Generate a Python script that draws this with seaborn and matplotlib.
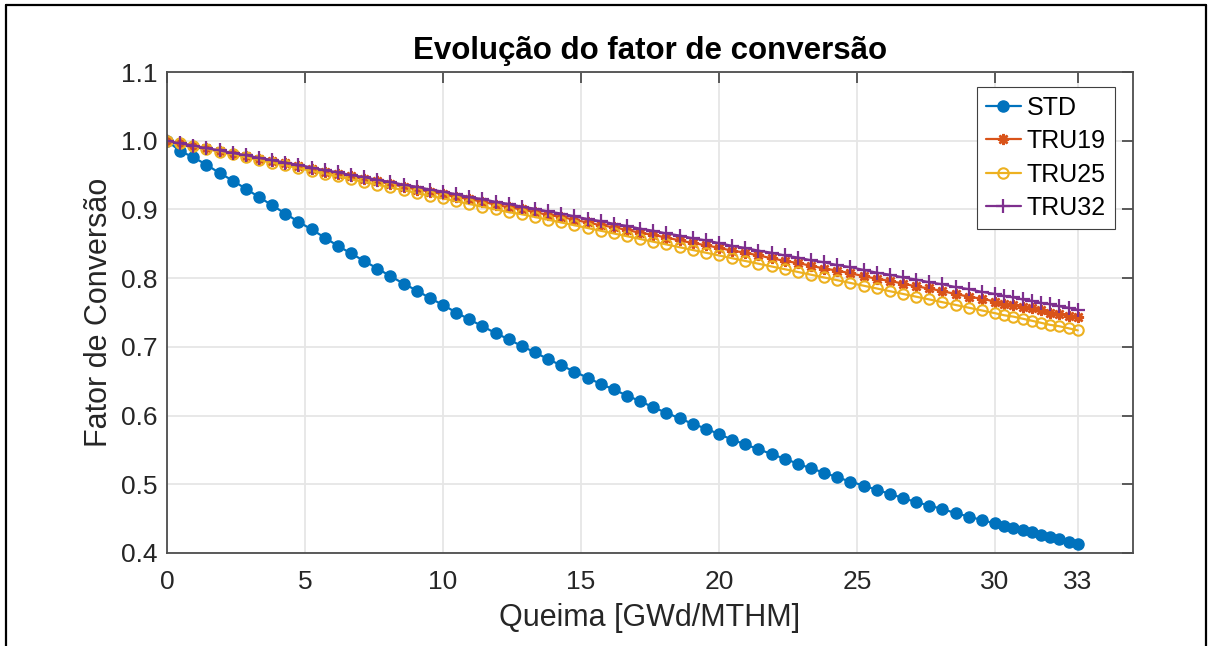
import matplotlib
matplotlib.use("Agg")
import matplotlib.pyplot as plt
from matplotlib.lines import Line2D
import pandas as pd
import seaborn as sns

# ---------------- data ----------------
burnup = [0.0, 0.476, 0.952, 1.429, 1.905, 2.381, 2.857, 3.333, 3.810, 4.286,
          4.762, 5.238, 5.714, 6.190, 6.667, 7.143, 7.619, 8.095, 8.571, 9.048,
          9.524, 10.0, 10.476, 10.952, 11.429, 11.905, 12.381, 12.857, 13.333, 13.810,
          14.286, 14.762, 15.238, 15.714, 16.190, 16.667, 17.143, 17.619, 18.095, 18.571,
          19.048, 19.524, 20.0, 20.476, 20.952, 21.429, 21.905, 22.381, 22.857, 23.333,
          23.810, 24.286, 24.762, 25.238, 25.714, 26.190, 26.667, 27.143, 27.619, 28.095,
          28.571, 29.048, 29.524, 30.0, 30.333, 30.667, 31.0, 31.333, 31.667, 32.0,
          32.333, 32.667, 33.0]

std = [1.000, 0.985, 0.976, 0.965, 0.953, 0.942, 0.930, 0.918, 0.906,
       0.894, 0.882, 0.871, 0.859, 0.847, 0.836, 0.825, 0.814, 0.803, 0.792, 0.782, 0.771,
       0.761, 0.750, 0.740, 0.730, 0.720, 0.711, 0.701, 0.692, 0.682, 0.673,
       0.664, 0.655, 0.646, 0.638, 0.629, 0.621, 0.612, 0.604, 0.596, 0.588,
       0.581, 0.573, 0.565, 0.558, 0.551, 0.544, 0.537, 0.530, 0.523, 0.517,
       0.510, 0.504, 0.498, 0.492, 0.486, 0.480, 0.474, 0.469, 0.464, 0.458,
       0.453, 0.448, 0.443,
       0.440, 0.436, 0.433, 0.430, 0.426, 0.423, 0.420, 0.416, 0.413]

tru19 = [1.000, 0.996, 0.993, 0.989, 0.985, 0.981, 0.978, 0.974, 0.970, 0.967,
         0.963, 0.959, 0.955, 0.952, 0.948, 0.944, 0.941, 0.937, 0.933, 0.929,
         0.926, 0.922, 0.918, 0.915, 0.911, 0.907, 0.903, 0.900, 0.896, 0.892,
         0.889, 0.885, 0.881, 0.877, 0.874, 0.870, 0.866, 0.863, 0.859, 0.855,
         0.851, 0.848, 0.844, 0.840, 0.837, 0.833, 0.829, 0.825, 0.822, 0.818,
         0.814, 0.811, 0.807, 0.803, 0.799, 0.796, 0.792, 0.788, 0.785, 0.781,
         0.777, 0.773, 0.770, 0.766, 0.763, 0.761, 0.758, 0.756, 0.753, 0.750,
         0.748, 0.745, 0.743]

tru25 = [1.000, 0.996, 0.992, 0.988, 0.984, 0.980, 0.976, 0.972, 0.968, 0.964,
         0.960, 0.956, 0.952, 0.948, 0.944, 0.940, 0.936, 0.932, 0.928, 0.924,
         0.920, 0.916, 0.912, 0.908, 0.904, 0.900, 0.896, 0.893, 0.889, 0.885,
         0.881, 0.877, 0.873, 0.869, 0.865, 0.861, 0.857, 0.853, 0.849, 0.845,
         0.841, 0.837, 0.833, 0.829, 0.825, 0.821, 0.817, 0.813, 0.809, 0.805,
         0.801, 0.797, 0.793, 0.789, 0.785, 0.781, 0.777, 0.773, 0.769, 0.765,
         0.761, 0.757, 0.753, 0.749, 0.746, 0.744, 0.741, 0.738, 0.735, 0.732,
         0.730, 0.727, 0.724]

tru32 = [1.000, 0.996, 0.993, 0.989, 0.986, 0.982, 0.979, 0.975, 0.972, 0.968,
         0.965, 0.961, 0.957, 0.954, 0.950, 0.947, 0.943, 0.940, 0.936, 0.933,
         0.929, 0.926, 0.922, 0.918, 0.915, 0.911, 0.908, 0.904, 0.901, 0.897,
         0.894, 0.890, 0.886, 0.883, 0.879, 0.876, 0.872, 0.869, 0.865, 0.862,
         0.858, 0.855, 0.851, 0.847, 0.844, 0.840, 0.837, 0.833, 0.830, 0.826,
         0.823, 0.819, 0.816, 0.812, 0.808, 0.805, 0.801, 0.798, 0.794, 0.791,
         0.787, 0.784, 0.780, 0.777, 0.774, 0.772, 0.769, 0.767, 0.764, 0.762,
         0.759, 0.757, 0.754]

series_names = ["STD", "TRU19", "TRU25", "TRU32"]
x_ticks = [0, 5, 10, 15, 20, 25, 30, 33]
y_ticks = [0.4, 0.5, 0.6, 0.7, 0.8, 0.9, 1.0, 1.1]
y_tick_labels = ["0.4", "0.5", "0.6", "0.7", "0.8", "0.9", "1.0", "1.1"]
title = "Evolução do fator de conversão"
x_label = "Queima [GWd/MTHM]"
y_label = "Fator de Conversão"

# ---------------- style ----------------
sns.set_style("white")
plt.rcParams["font.family"] = ["Liberation Sans", "DejaVu Sans"]

W, H = 1212, 646
fig = plt.figure(figsize=(W / 100, H / 100), dpi=100)
ax = fig.add_axes([167 / W, 1 - 553 / H, (1133 - 167) / W, (553 - 72) / H])

styles = {
    "STD":   dict(color="#0072BD", marker="o", markersize=8, markerfacecolor="#0072BD",
                  markeredgecolor="#0072BD", markeredgewidth=1.0, linewidth=1.6),
    "TRU19": dict(color="#D95319", marker=(8, 2, 0), markersize=8, markerfacecolor="#D95319",
                  markeredgecolor="#D95319", markeredgewidth=1.8, linewidth=1.6),
    "TRU25": dict(color="#EDB120", marker="o", markersize=7.5, markerfacecolor="none",
                  markeredgecolor="#EDB120", markeredgewidth=1.5, linewidth=1.6),
    "TRU32": dict(color="#7E2F8E", marker="+", markersize=9.5, markerfacecolor="#7E2F8E",
                  markeredgecolor="#7E2F8E", markeredgewidth=1.6, linewidth=1.6),
}

for name, vals in zip(series_names, [std, tru19, tru25, tru32]):
    df = pd.DataFrame({"x": burnup, "y": vals})
    sns.lineplot(data=df, x="x", y="y", ax=ax, label=name, estimator=None,
                 sort=False, **styles[name])

ax.set_xlim(0, 35)
ax.set_ylim(0.4, 1.1)
ax.set_xticks(x_ticks)
ax.set_xticklabels([str(t) for t in x_ticks])
ax.set_yticks(y_ticks)
ax.set_yticklabels(y_tick_labels)

ax.grid(True, color="#e6e6e6", linewidth=1.3)
ax.set_axisbelow(True)
for sp in ax.spines.values():
    sp.set_visible(True)
    sp.set_color("#4d4d4d")
    sp.set_linewidth(1.3)

ax.tick_params(axis="both", which="major", direction="in", length=8, width=1.3,
               color="#4d4d4d", labelcolor="#262626", labelsize=19,
               top=True, right=True)
ax.tick_params(axis="x", pad=12.5)
ax.tick_params(axis="y", pad=7)

ax.set_title(title, fontsize=22.5, fontweight="bold", color="black", pad=9)
ax.set_xlabel(x_label, fontsize=22, color="#262626")
ax.set_ylabel(y_label, fontsize=22, color="#262626")
ax.xaxis.set_label_coords(0.5, -0.104)
ax.yaxis.set_label_coords(-0.055, 0.5)

leg = ax.legend(loc="upper right", bbox_to_anchor=(0.981, 0.969), borderaxespad=0,
                fontsize=18, frameon=True, fancybox=False, framealpha=1,
                edgecolor="#404040", handlelength=1.4, handletextpad=0.25,
                labelspacing=0.38, borderpad=0.35)
leg.get_frame().set_linewidth(0.8)
for t in leg.get_texts():
    t.set_color("black")

# outer figure frame
lw = 1.6
top = 1 - 5 / H
fig.add_artist(Line2D([6 / W, 6 / W], [-0.05, top], transform=fig.transFigure,
                      color="black", linewidth=lw))
fig.add_artist(Line2D([1206 / W, 1206 / W], [-0.05, top], transform=fig.transFigure,
                      color="black", linewidth=lw))
fig.add_artist(Line2D([6 / W, 1206 / W], [top, top], transform=fig.transFigure,
                      color="black", linewidth=lw))

fig.savefig("out.png", dpi=100)
